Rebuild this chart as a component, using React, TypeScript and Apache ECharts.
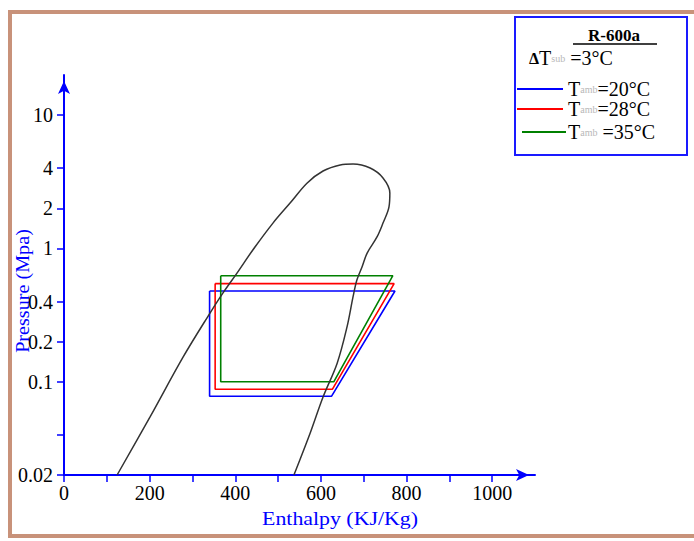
import { useEffect, useRef } from 'react';
import * as echarts from 'echarts';

// Saturation dome of R-600a (enthalpy kJ/kg, pressure MPa), traced liquid side -> vapour side
const domeH = [124, 201, 278, 341, 371, 404, 441, 488, 528, 568, 605, 645, 675, 715, 745, 761, 759, 745, 731, 708, 696, 684, 675, 661, 638, 605, 575, 537];
const domeP = [0.02, 0.0545, 0.153, 0.328, 0.463, 0.654, 0.974, 1.55, 2.19, 3.1, 3.81, 4.23, 4.3, 4.01, 3.38, 2.61, 2.05, 1.55, 1.22, 0.924, 0.726, 0.58, 0.433, 0.258, 0.138, 0.0769, 0.0413, 0.02];

// Refrigeration cycles for three ambient temperatures
const ambientTemps = [20, 28, 35];
const cycleColors = ['#0000ff', '#ff0000', '#008000'];
const condPressure = [0.48, 0.545, 0.625];
const evapPressure = [0.078, 0.088, 0.1];
const liquidEnthalpy = [340, 353, 366];
const suctionEnthalpy = [625, 627, 630];
const dischargeEnthalpy = [773, 771, 768];

// Axis ticks
const pressureTicks = [0.02, 0.04, 0.1, 0.2, 0.4, 1, 2, 4, 10];
const pressureTickLabels = ['0.02', '', '0.1', '0.2', '0.4', '1', '2', '4', '10'];
const enthalpyTicks = [0, 100, 200, 300, 400, 500, 600, 700, 800, 900, 1000];
const enthalpyLabels = [0, 200, 400, 600, 800, 1000];

const SERIF = '"Liberation Serif", "DejaVu Serif", serif';
const AXIS_BLUE = '#0000ff';

const subStyle = { fontFamily: SERIF, fontSize: 10, fill: '#b8b8b8' };
const mainStyle = { fontFamily: SERIF, fontSize: 20, fill: '#000' };

function cyclePath(i: number): number[][] {
  return [
    [liquidEnthalpy[i], condPressure[i]],
    [dischargeEnthalpy[i], condPressure[i]],
    [suctionEnthalpy[i], evapPressure[i]],
    [liquidEnthalpy[i], evapPressure[i]],
    [liquidEnthalpy[i], condPressure[i]],
  ];
}

function legendRow(i: number, y: number, lineX0: number, lineX1: number, textX: number, gap: string) {
  return [
    {
      type: 'line',
      z: 20,
      shape: { x1: lineX0, y1: y, x2: lineX1, y2: y },
      style: { stroke: cycleColors[i], lineWidth: 2 },
    },
    {
      type: 'text',
      z: 20,
      x: textX,
      y: y,
      style: {
        text: `{t|T}{s|amb}{t|${gap}=${ambientTemps[i]}°C}`,
        verticalAlign: 'middle',
        rich: { t: mainStyle, s: subStyle },
      },
    },
  ];
}

export default function App() {
  const ref = useRef<HTMLDivElement>(null);

  useEffect(() => {
    if (!ref.current) return;
    const chart = echarts.init(ref.current, undefined, { renderer: 'svg' });

    const series: any[] = [
      {
        type: 'line',
        data: domeH.map((h, k) => [h, domeP[k]]),
        smooth: 0.35,
        showSymbol: false,
        symbol: 'none',
        lineStyle: { color: '#333', width: 1.5 },
        z: 3,
      },
    ];
    ambientTemps.forEach((_, i) => {
      series.push({
        type: 'line',
        data: cyclePath(i),
        showSymbol: false,
        symbol: 'none',
        lineStyle: { color: cycleColors[i], width: 1.6 },
        z: 2,
      });
    });

    chart.setOption({
      animation: false,
      backgroundColor: '#fff',
      grid: { left: 64, top: 75, width: 471, height: 400 },
      xAxis: {
        type: 'value',
        min: 0,
        max: 1100,
        interval: 100,
        axisLine: {
          show: true,
          onZero: false,
          symbol: ['none', 'arrow'],
          symbolSize: [9, 13],
          symbolOffset: [0, -6],
          lineStyle: { color: AXIS_BLUE, width: 2 },
        },
        axisTick: {
          show: true,
          length: 7,
          customValues: enthalpyTicks,
          lineStyle: { color: AXIS_BLUE, width: 1.5 },
        },
        axisLabel: {
          customValues: enthalpyLabels,
          color: '#000',
          fontFamily: SERIF,
          fontSize: 20,
          margin: 8,
          formatter: (v: number) => String(v),
        },
        splitLine: { show: false },
      },
      yAxis: {
        type: 'log',
        logBase: 10,
        min: 0.02,
        max: 20,
        axisLine: {
          show: true,
          onZero: false,
          symbol: ['none', 'arrow'],
          symbolSize: [9, 13],
          symbolOffset: [0, -6],
          lineStyle: { color: AXIS_BLUE, width: 2 },
        },
        axisTick: {
          show: true,
          length: 7,
          customValues: pressureTicks,
          lineStyle: { color: AXIS_BLUE, width: 1.5 },
        },
        axisLabel: {
          customValues: pressureTicks,
          color: '#000',
          fontFamily: SERIF,
          fontSize: 20,
          margin: 11,
          formatter: (v: number) => {
            const k = pressureTicks.findIndex((t) => Math.abs(t - v) / t < 1e-6);
            return k >= 0 ? pressureTickLabels[k] : '';
          },
        },
        splitLine: { show: false },
        minorTick: { show: false },
      },
      series,
      graphic: [
        // outer frame
        {
          type: 'rect',
          z: 10,
          shape: { x: 10, y: 12, width: 700, height: 524 },
          style: { fill: 'none', stroke: '#c8927a', lineWidth: 4 },
        },
        // axis titles
        {
          type: 'text',
          z: 10,
          x: 23,
          y: 291,
          rotation: Math.PI / 2,
          scaleX: 1.12,
          style: {
            text: 'Pressure (Mpa)',
            fontFamily: SERIF,
            fontSize: 18,
            fill: AXIS_BLUE,
            align: 'center',
            verticalAlign: 'middle',
          },
        },
        {
          type: 'text',
          z: 10,
          x: 340,
          y: 519,
          scaleX: 1.15,
          style: {
            text: 'Enthalpy (KJ/Kg)',
            fontFamily: SERIF,
            fontSize: 19,
            fill: AXIS_BLUE,
            align: 'center',
            verticalAlign: 'middle',
          },
        },
        // legend box
        {
          type: 'rect',
          z: 15,
          shape: { x: 515, y: 17, width: 172, height: 138 },
          style: { fill: '#fff', stroke: '#1a1aff', lineWidth: 2 },
        },
        {
          type: 'text',
          z: 20,
          x: 614,
          y: 35,
          style: {
            text: 'R-600a',
            fontFamily: SERIF,
            fontSize: 17,
            fontWeight: 'bold',
            fill: '#000',
            align: 'center',
            verticalAlign: 'middle',
          },
        },
        {
          type: 'line',
          z: 20,
          shape: { x1: 573, y1: 44, x2: 657, y2: 44 },
          style: { stroke: '#000', lineWidth: 1.5 },
        },
        {
          type: 'text',
          z: 20,
          x: 529,
          y: 58,
          style: {
            text: '{d|Δ}{t|T}{s|sub}{t| =3°C}',
            verticalAlign: 'middle',
            rich: {
              d: { fontFamily: SERIF, fontSize: 16, fontWeight: 'bold', fill: '#000' },
              t: mainStyle,
              s: subStyle,
            },
          },
        },
        ...legendRow(0, 89, 517, 563, 568, ''),
        ...legendRow(1, 109, 517, 563, 568, ''),
        ...legendRow(2, 132, 522, 566, 568, ' '),
      ],
    });

    return () => chart.dispose();
  }, []);

  return (
    <div
      ref={ref}
      style={{ position: 'absolute', left: 0, top: 0, width: 694, height: 541, background: '#fff' }}
    />
  );
}
